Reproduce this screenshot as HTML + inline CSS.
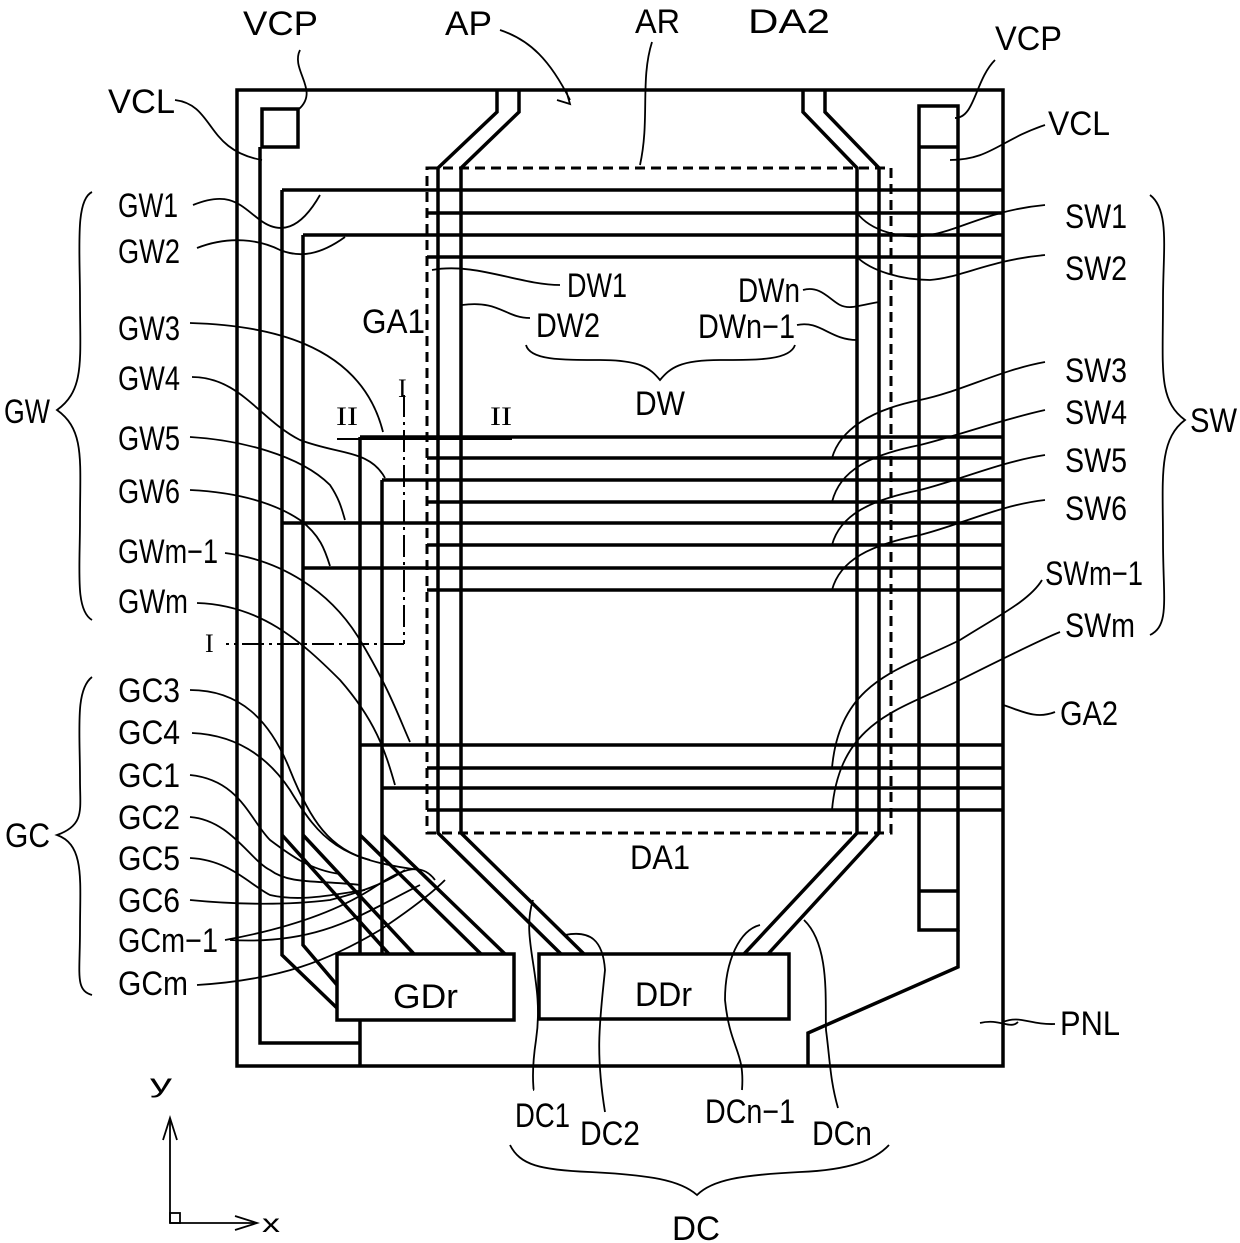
<!DOCTYPE html>
<html><head><meta charset="utf-8"><style>
html,body{margin:0;padding:0;background:#fff}
svg{display:block}
text{font-family:"Liberation Sans",sans-serif;font-size:34px;fill:#000}
.r{font-family:"Liberation Serif",serif;font-size:26px}
</style></head><body>
<svg width="1240" height="1243" viewBox="0 0 1240 1243" xmlns="http://www.w3.org/2000/svg">
<g fill="none" stroke="#000" stroke-width="3.5" stroke-linejoin="miter">
<rect x="237" y="90" width="766" height="976"/>
<rect x="262" y="109" width="36" height="38"/>
<polyline points="260,147 260,1043 360,1043"/>
<line x1="360" y1="1020" x2="360" y2="1066"/>
<rect x="919" y="106" width="39" height="824"/>
<line x1="919" y1="147" x2="958" y2="147"/>
<line x1="919" y1="891" x2="958" y2="891"/>
<polyline points="958,930 958,967 808,1033 808,1066"/>
<rect x="337" y="954" width="177" height="66"/>
<rect x="539" y="954" width="250" height="65"/>
<polyline points="282,190 282,955 337,1008"/>
<polyline points="303,235 303,945 337,985"/>
<polyline points="360,437 360,954"/>
<polyline points="382,480 382,954"/>
<line x1="282" y1="835" x2="389" y2="954"/>
<line x1="303" y1="835" x2="414" y2="954"/>
<line x1="360" y1="835" x2="481" y2="954"/>
<line x1="382" y1="835" x2="505" y2="954"/>
<line x1="282" y1="190" x2="1003" y2="190"/>
<line x1="427" y1="213" x2="1003" y2="213"/>
<line x1="303" y1="235" x2="1003" y2="235"/>
<line x1="427" y1="257" x2="1003" y2="257"/>
<line x1="360" y1="437" x2="1003" y2="437"/>
<line x1="427" y1="458" x2="1003" y2="458"/>
<line x1="382" y1="480" x2="1003" y2="480"/>
<line x1="427" y1="502" x2="1003" y2="502"/>
<line x1="282" y1="523" x2="1003" y2="523"/>
<line x1="427" y1="545" x2="1003" y2="545"/>
<line x1="303" y1="568" x2="1003" y2="568"/>
<line x1="427" y1="590" x2="1003" y2="590"/>
<line x1="360" y1="745" x2="1003" y2="745"/>
<line x1="427" y1="768" x2="1003" y2="768"/>
<line x1="382" y1="788" x2="1003" y2="788"/>
<line x1="427" y1="810" x2="1003" y2="810"/>
<polyline points="497,90 497,112 438,168 438,833 561,954"/>
<polyline points="519,90 519,112 461,168 461,833 584,954"/>
<polyline points="803,90 803,112 857,168 857,833 744,954"/>
<polyline points="825,90 825,112 879,168 879,833 768,954"/>
<rect x="427" y="168" width="464" height="665" stroke-dasharray="10 6" stroke-width="3"/>
</g>
<g fill="none" stroke="#000" stroke-width="2">
<line x1="337" y1="439" x2="512" y2="439"/>
<line x1="404" y1="395" x2="404" y2="644" stroke-dasharray="22 5 3 5"/>
<line x1="404" y1="644" x2="226" y2="644" stroke-dasharray="22 5 3 5"/>
</g>
<g fill="none" stroke="#000" stroke-width="1.8">
<path d="M175,100 C215,105 205,150 262,160"/>
<path d="M299,109 C320,90 290,70 300,50"/>
<path d="M500,30 C530,40 550,60 570,100 M557,100 L570,104 L566,90"/>
<path d="M652,42 C640,80 650,120 640,165"/>
<path d="M955,118 C975,118 975,80 995,60"/>
<path d="M950,160 C990,160 1000,140 1045,125"/>
<path d="M193,205 C230,190 240,205 260,220 C280,235 300,230 320,195"/>
<path d="M197,248 C230,235 260,240 280,250 C300,258 320,255 345,237"/>
<path d="M190,323 C260,325 360,340 383,432"/>
<path d="M192,377 C240,377 260,420 300,440 C340,455 370,450 385,478"/>
<path d="M190,437 C240,440 300,455 330,485 C340,500 342,510 345,520"/>
<path d="M190,490 C230,492 270,500 300,520 C320,535 325,550 330,566"/>
<path d="M225,553 C280,560 330,590 360,640 C390,690 400,720 410,742"/>
<path d="M197,603 C260,605 300,640 340,680 C375,720 385,750 395,785"/>
<path d="M432,270 C475,262 520,285 560,285"/>
<path d="M462,305 C500,300 505,318 530,318"/>
<path d="M803,290 C820,285 830,300 840,305 C850,310 860,305 879,302"/>
<path d="M797,325 C820,320 830,340 857,340"/>
<path d="M857,213 C870,230 900,240 930,235 C960,230 990,210 1045,205"/>
<path d="M857,257 C870,270 900,280 930,280 C960,278 990,260 1045,255"/>
<path d="M832,458 C840,430 870,410 920,400 C960,392 1000,370 1045,362"/>
<path d="M832,502 C840,470 870,455 920,445 C960,435 1000,420 1045,410"/>
<path d="M832,545 C840,515 870,500 920,490 C960,480 1000,462 1045,455"/>
<path d="M832,590 C840,560 870,545 920,535 C960,525 1000,505 1045,500"/>
<path d="M832,768 C840,680 900,670 960,640 C1000,615 1030,600 1042,580"/>
<path d="M832,810 C840,720 900,710 960,680 C1000,660 1040,640 1060,632"/>
<path d="M1003,705 C1020,710 1035,720 1055,712"/>
<path d="M980,1023 C1000,1018 1010,1030 1018,1022 M1003,1022 C1020,1015 1030,1025 1055,1024"/>
<path d="M190,690 C240,690 270,720 290,770 C310,820 330,850 370,860"/>
<path d="M192,733 C240,735 270,760 290,790 C320,840 340,860 420,870"/>
<path d="M190,775 C240,780 250,820 270,840 C290,855 310,870 340,874"/>
<path d="M190,817 C230,820 250,860 270,870 C290,885 320,880 360,885"/>
<path d="M190,858 C230,860 250,885 270,895 C300,902 330,895 365,890"/>
<path d="M190,900 C240,905 290,905 330,900 C370,890 390,880 405,870"/>
<path d="M225,940 C280,930 330,915 370,890 C400,870 420,860 435,880 M230,940 C320,945 360,915 420,885"/>
<path d="M197,985 C280,980 330,960 380,930 C410,910 430,895 445,880"/>
<path d="M533,900 C520,940 545,980 536,1040 C530,1080 535,1090 533,1090"/>
<path d="M565,935 C590,930 603,940 605,970 C600,1020 595,1050 605,1112"/>
<path d="M760,925 C740,930 725,960 725,1000 C730,1050 745,1050 742,1090"/>
<path d="M804,920 C830,945 825,1000 826,1030 C830,1060 830,1080 838,1108"/>
<path d="M92,192 C75,200 80,250 80,300 C80,360 85,390 57,410 C85,430 80,460 80,520 C80,570 75,610 92,620"/>
<path d="M92,677 C75,690 80,730 80,780 C80,810 85,825 57,835 C85,845 80,880 80,930 C80,975 75,990 92,995"/>
<path d="M1150,195 C1170,210 1163,250 1163,300 C1163,370 1158,400 1185,420 C1158,440 1163,480 1163,540 C1163,600 1170,625 1150,635"/>
<path d="M526,345 C530,360 560,360 600,360 C640,360 650,368 660,380 C670,368 680,360 720,360 C760,360 790,360 795,345"/>
<path d="M510,1145 C520,1165 540,1170 590,1172 C650,1175 680,1180 697,1195 C712,1180 740,1175 800,1172 C850,1170 875,1160 889,1145"/>
</g>
<g fill="none" stroke="#000" stroke-width="1.8">
<line x1="170" y1="1223" x2="170" y2="1120"/>
<path d="M163,1140 L170,1118 L177,1140"/>
<line x1="170" y1="1223" x2="255" y2="1223"/>
<path d="M235,1216 L257,1223 L235,1230"/>
<rect x="170" y="1213" width="10" height="10"/>
</g>
<text x="150" y="1092" textLength="22" lengthAdjust="spacingAndGlyphs" style="font-size:26px">y</text>
<text x="262" y="1232" textLength="18" lengthAdjust="spacingAndGlyphs" style="font-size:26px">x</text>
<g>
<text x="243" y="35" textLength="75" lengthAdjust="spacingAndGlyphs">VCP</text>
<text x="445" y="35" textLength="47" lengthAdjust="spacingAndGlyphs">AP</text>
<text x="635" y="33" textLength="45" lengthAdjust="spacingAndGlyphs">AR</text>
<text x="748" y="33" textLength="82" lengthAdjust="spacingAndGlyphs">DA2</text>
<text x="995" y="50" textLength="67" lengthAdjust="spacingAndGlyphs">VCP</text>
<text x="108" y="113" textLength="67" lengthAdjust="spacingAndGlyphs">VCL</text>
<text x="1048" y="135" textLength="62" lengthAdjust="spacingAndGlyphs">VCL</text>
<text x="118" y="217" textLength="60" lengthAdjust="spacingAndGlyphs">GW1</text>
<text x="118" y="263" textLength="62" lengthAdjust="spacingAndGlyphs">GW2</text>
<text x="118" y="340" textLength="62" lengthAdjust="spacingAndGlyphs">GW3</text>
<text x="118" y="390" textLength="62" lengthAdjust="spacingAndGlyphs">GW4</text>
<text x="118" y="450" textLength="62" lengthAdjust="spacingAndGlyphs">GW5</text>
<text x="118" y="503" textLength="62" lengthAdjust="spacingAndGlyphs">GW6</text>
<text x="118" y="563" textLength="100" lengthAdjust="spacingAndGlyphs">GWm−1</text>
<text x="118" y="613" textLength="70" lengthAdjust="spacingAndGlyphs">GWm</text>
<text x="4" y="423" textLength="46" lengthAdjust="spacingAndGlyphs">GW</text>
<text x="362" y="333" textLength="63" lengthAdjust="spacingAndGlyphs">GA1</text>
<text x="567" y="297" textLength="60" lengthAdjust="spacingAndGlyphs">DW1</text>
<text x="536" y="337" textLength="64" lengthAdjust="spacingAndGlyphs">DW2</text>
<text x="738" y="302" textLength="62" lengthAdjust="spacingAndGlyphs">DWn</text>
<text x="698" y="338" textLength="97" lengthAdjust="spacingAndGlyphs">DWn−1</text>
<text x="635" y="415" textLength="50" lengthAdjust="spacingAndGlyphs">DW</text>
<text x="1065" y="228" textLength="62" lengthAdjust="spacingAndGlyphs">SW1</text>
<text x="1065" y="280" textLength="62" lengthAdjust="spacingAndGlyphs">SW2</text>
<text x="1065" y="382" textLength="62" lengthAdjust="spacingAndGlyphs">SW3</text>
<text x="1065" y="424" textLength="62" lengthAdjust="spacingAndGlyphs">SW4</text>
<text x="1065" y="472" textLength="62" lengthAdjust="spacingAndGlyphs">SW5</text>
<text x="1065" y="520" textLength="62" lengthAdjust="spacingAndGlyphs">SW6</text>
<text x="1045" y="585" textLength="98" lengthAdjust="spacingAndGlyphs">SWm−1</text>
<text x="1065" y="637" textLength="70" lengthAdjust="spacingAndGlyphs">SWm</text>
<text x="1190" y="432" textLength="47" lengthAdjust="spacingAndGlyphs">SW</text>
<text x="1060" y="725" textLength="58" lengthAdjust="spacingAndGlyphs">GA2</text>
<text x="1060" y="1035" textLength="60" lengthAdjust="spacingAndGlyphs">PNL</text>
<text x="118" y="702" textLength="62" lengthAdjust="spacingAndGlyphs">GC3</text>
<text x="118" y="744" textLength="62" lengthAdjust="spacingAndGlyphs">GC4</text>
<text x="118" y="787" textLength="62" lengthAdjust="spacingAndGlyphs">GC1</text>
<text x="118" y="829" textLength="62" lengthAdjust="spacingAndGlyphs">GC2</text>
<text x="118" y="870" textLength="62" lengthAdjust="spacingAndGlyphs">GC5</text>
<text x="118" y="912" textLength="62" lengthAdjust="spacingAndGlyphs">GC6</text>
<text x="118" y="952" textLength="100" lengthAdjust="spacingAndGlyphs">GCm−1</text>
<text x="118" y="995" textLength="70" lengthAdjust="spacingAndGlyphs">GCm</text>
<text x="5" y="847" textLength="45" lengthAdjust="spacingAndGlyphs">GC</text>
<text x="630" y="869" textLength="60" lengthAdjust="spacingAndGlyphs">DA1</text>
<text x="393" y="1008" textLength="65" lengthAdjust="spacingAndGlyphs">GDr</text>
<text x="635" y="1006" textLength="57" lengthAdjust="spacingAndGlyphs">DDr</text>
<text x="515" y="1127" textLength="55" lengthAdjust="spacingAndGlyphs">DC1</text>
<text x="580" y="1145" textLength="60" lengthAdjust="spacingAndGlyphs">DC2</text>
<text x="705" y="1123" textLength="90" lengthAdjust="spacingAndGlyphs">DCn−1</text>
<text x="812" y="1145" textLength="60" lengthAdjust="spacingAndGlyphs">DCn</text>
<text x="672" y="1240" textLength="48" lengthAdjust="spacingAndGlyphs">DC</text>
<text class="r" x="336" y="425" textLength="22" lengthAdjust="spacingAndGlyphs">II</text>
<text class="r" x="398" y="397" textLength="13">I</text>
<text class="r" x="490" y="425" textLength="22" lengthAdjust="spacingAndGlyphs">II</text>
<text class="r" x="205" y="652" textLength="14">I</text>
</g>
</svg>
</body></html>
